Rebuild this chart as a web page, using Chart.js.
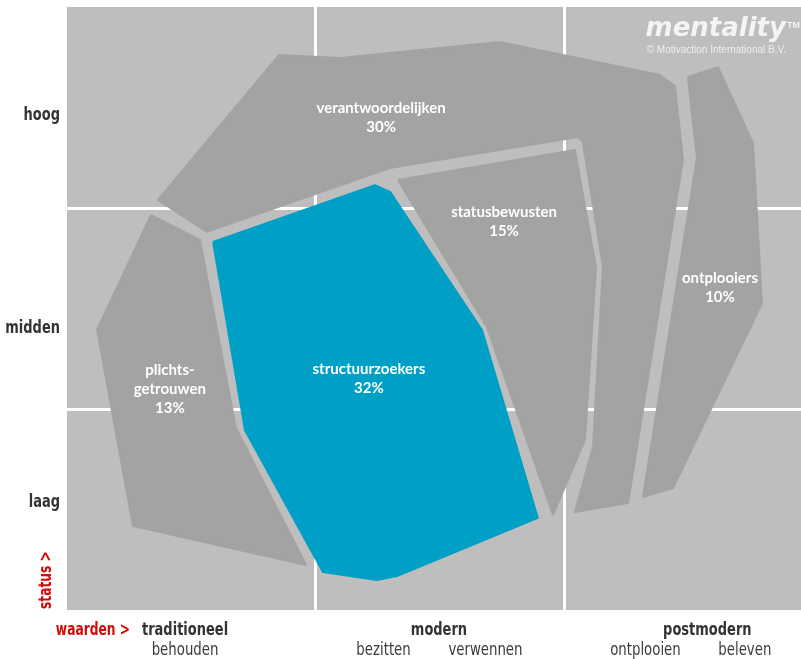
<!DOCTYPE html>
<html>
<head>
<meta charset="utf-8">
<script src="https://cdn.jsdelivr.net/npm/chart.js@4/dist/chart.umd.min.js"></script>
<style>
  html, body { margin: 0; padding: 0; background: #ffffff; }
  #wrap { width: 801px; height: 659px; }
</style>
</head>
<body>
<div id="wrap"><canvas id="c" width="801" height="659"></canvas></div>
<script>
// ---------- DATA (x: waarden axis, 100 units per column; y: status axis, 100 units per row) ----------
const segmentNames  = ['verantwoordelijken', 'statusbewusten', 'structuurzoekers', 'plichts-\ngetrouwen', 'ontplooiers'];
const segmentShares = [30, 15, 32, 13, 10];

const verantwoordelijkenX = [36.6, 85.3, 109.9, 174.2, 238.6, 244.7, 247.9, 225.8, 204.4, 211.7, 215.7, 207.6, 205.6, 130.0, 56.3];
const verantwoordelijkenY = [204.0, 276.1, 274.6, 282.6, 266.2, 260.7, 223.9, 53.2, 48.8, 81.1, 170.6, 232.8, 235.3, 219.9, 188.1];

const statusbewustenX = [133.2, 204.4, 212.9, 208.5, 195.6, 169.0];
const statusbewustenY = [213.9, 228.9, 170.6, 84.6, 47.3, 140.8];

const structuurzoekersX = [58.8, 123.9, 130.0, 167.0, 189.5, 132.8, 124.7, 103.0, 71.6];
const structuurzoekersY = [183.1, 211.4, 208.0, 139.3, 45.8, 16.9, 14.9, 18.9, 89.6];

const plichtsgetrouwenX = [33.8, 53.5, 68.0, 96.2, 26.6, 12.1];
const plichtsgetrouwenY = [196.5, 184.1, 90.5, 22.4, 41.8, 139.3];

const ontplooiersX = [249.9, 262.0, 276.1, 279.7, 243.9, 231.8, 253.5];
const ontplooiersY = [265.2, 270.1, 232.3, 152.7, 60.7, 56.2, 224.9];

const labelX = [126.4, 175.9, 121.5, 41.4, 262.8];
const labelY = [244.8, 193.2, 114.9, 109.9, 160.2];

const statusTickValues = [247.3, 141.3, 54.7];
const statusTickLabels = ['hoog', 'midden', 'laag'];

const waardenTickValues = [47.5, 149.7, 257.7];
const waardenTickLabels = ['traditioneel', 'modern', 'postmodern'];

const subTickValues = [47.5, 127.4, 168.4, 232.8, 272.8];
const subTickLabels = ['behouden', 'bezitten', 'verwennen', 'ontplooien', 'beleven'];

const gridX = [100, 200];
const gridY = [100, 200];

// ---------- STYLE ----------
const SHAPE_GREY = '#a3a3a3';
const BLUE = '#00a0c6';
const CELL_GREY = '#bebebe';
const RED = '#d20a0a';
const DARK = '#333333';
const AXIS_FONT_BOLD = 'bold 17px "DejaVu Sans Condensed", "DejaVu Sans", sans-serif';
const AXIS_FONT_LIGHT = '17px "DejaVu Sans Condensed", "DejaVu Sans", sans-serif';
const SQUEEZE_BOLD = 0.85;
const SQUEEZE_LIGHT = 0.87;
const SQUEEZE_RED = 0.8;

function polygon(xs, ys) {
  const pts = xs.map((x, i) => ({ x: x, y: ys[i] }));
  pts.push({ x: xs[0], y: ys[0] });
  return pts;
}

function squeezedText(ctx, text, x, y, squeeze) {
  ctx.save();
  ctx.translate(x, y);
  ctx.scale(squeeze, 1);
  ctx.fillText(text, 0, 0);
  ctx.restore();
}

const shapes = [
  { xs: verantwoordelijkenX, ys: verantwoordelijkenY, color: SHAPE_GREY },
  { xs: statusbewustenX, ys: statusbewustenY, color: SHAPE_GREY },
  { xs: structuurzoekersX, ys: structuurzoekersY, color: BLUE },
  { xs: plichtsgetrouwenX, ys: plichtsgetrouwenY, color: SHAPE_GREY },
  { xs: ontplooiersX, ys: ontplooiersY, color: SHAPE_GREY }
];

const panelPlugin = {
  id: 'panel',
  beforeDatasetsDraw(chart) {
    const { ctx, chartArea: a, scales } = chart;
    ctx.save();
    ctx.fillStyle = CELL_GREY;
    ctx.fillRect(a.left, a.top, a.right - a.left, a.bottom - a.top);
    ctx.strokeStyle = '#ffffff';
    ctx.lineWidth = 3;
    gridX.forEach(v => {
      const px = Math.round(scales.x.getPixelForValue(v)) + 0.5;
      ctx.beginPath(); ctx.moveTo(px, a.top); ctx.lineTo(px, a.bottom); ctx.stroke();
    });
    gridY.forEach(v => {
      const py = Math.round(scales.y.getPixelForValue(v)) + 0.5;
      ctx.beginPath(); ctx.moveTo(a.left, py); ctx.lineTo(a.right, py); ctx.stroke();
    });
    ctx.restore();
  },
  afterDatasetsDraw(chart) {
    const { ctx, chartArea: a, scales } = chart;
    ctx.save();
    // segment labels
    ctx.fillStyle = '#ffffff';
    ctx.font = 'bold 15px Lato, "Open Sans", sans-serif';
    ctx.textAlign = 'center';
    ctx.textBaseline = 'middle';
    const lh = 19;
    segmentNames.forEach((name, i) => {
      const lines = name.split('\n').concat([segmentShares[i] + '%']);
      const cx = scales.x.getPixelForValue(labelX[i]);
      const cy = scales.y.getPixelForValue(labelY[i]);
      const y0 = cy - (lines.length - 1) * lh / 2;
      lines.forEach((t, j) => ctx.fillText(t, cx, y0 + j * lh));
    });

    // status axis labels
    ctx.fillStyle = DARK;
    ctx.font = AXIS_FONT_BOLD;
    ctx.textAlign = 'right';
    statusTickValues.forEach((v, i) => {
      squeezedText(ctx, statusTickLabels[i], a.left - 7, scales.y.getPixelForValue(v) + 3, SQUEEZE_BOLD);
    });

    // waarden axis labels
    ctx.textAlign = 'center';
    waardenTickValues.forEach((v, i) => {
      squeezedText(ctx, waardenTickLabels[i], scales.x.getPixelForValue(v), a.bottom + 21, SQUEEZE_BOLD);
    });
    ctx.font = AXIS_FONT_LIGHT;
    ctx.fillStyle = '#3a3a3a';
    subTickValues.forEach((v, i) => {
      squeezedText(ctx, subTickLabels[i], scales.x.getPixelForValue(v), a.bottom + 41, SQUEEZE_LIGHT);
    });

    // axis titles in red
    ctx.fillStyle = RED;
    ctx.font = AXIS_FONT_BOLD;
    ctx.textAlign = 'right';
    squeezedText(ctx, 'waarden >', a.left + 63, a.bottom + 21, SQUEEZE_RED);
    ctx.save();
    ctx.translate(a.left - 20, a.bottom - 1);
    ctx.rotate(-Math.PI / 2);
    ctx.textAlign = 'left';
    squeezedText(ctx, 'status >', 0, 0, SQUEEZE_RED);
    ctx.restore();

    // brand mark
    ctx.fillStyle = '#f4f4f4';
    ctx.textAlign = 'right';
    ctx.textBaseline = 'alphabetic';
    ctx.font = 'italic bold 26px "DejaVu Sans", sans-serif';
    ctx.fillText('mentality', a.right - 15, a.top + 29);
    ctx.textAlign = 'left';
    ctx.font = 'bold 9px "Liberation Sans", Arial, sans-serif';
    ctx.fillText('TM', a.right - 14, a.top + 21);
    ctx.textAlign = 'right';
    ctx.font = '10px "Liberation Sans", Arial, sans-serif';
    ctx.fillStyle = '#eeeeee';
    ctx.fillText('\u00A9 Motivaction International B.V.', a.right - 15, a.top + 46);
    ctx.restore();
  }
};

new Chart(document.getElementById('c'), {
  type: 'line',
  data: {
    datasets: shapes.map(s => ({
      data: polygon(s.xs, s.ys),
      backgroundColor: s.color,
      borderColor: s.color,
      borderWidth: 2,
      borderJoinStyle: 'round',
      fill: 'shape',
      pointRadius: 0,
      tension: 0
    }))
  },
  options: {
    responsive: false,
    animation: false,
    devicePixelRatio: 1,
    layout: { padding: { left: 67, top: 7, right: 0, bottom: 49 } },
    scales: {
      x: { type: 'linear', min: 0, max: 295.4, display: false },
      y: { type: 'linear', min: 0, max: 300, display: false }
    },
    plugins: { legend: { display: false }, tooltip: { enabled: false } },
    events: []
  },
  plugins: [panelPlugin]
});
</script>
</body>
</html>
